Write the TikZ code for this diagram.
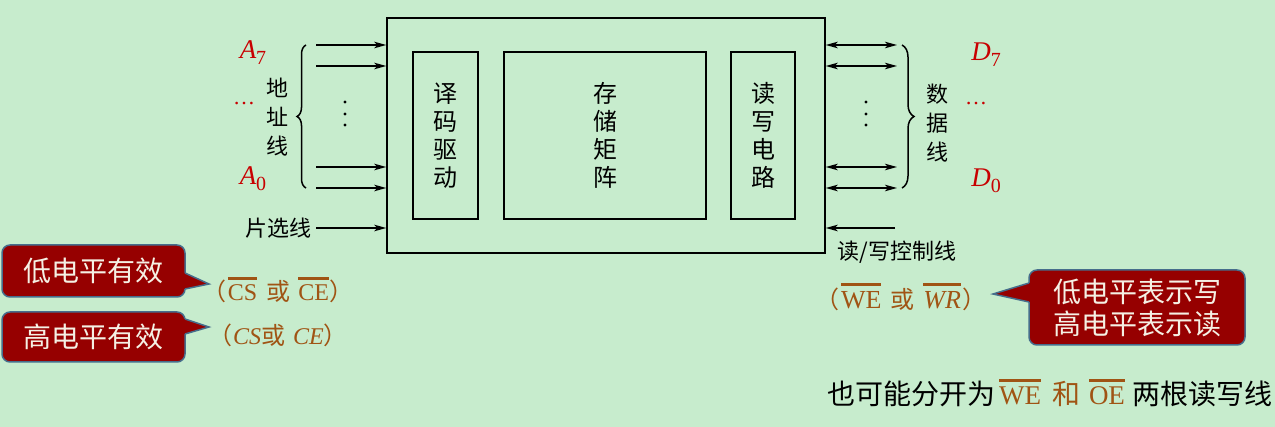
\documentclass[tikz,border=0pt]{standalone}
\usepackage{fontspec}
\setmainfont{Liberation Serif}
\newfontfamily\cjk{Noto Sans CJK SC}
\usetikzlibrary{arrows.meta,decorations.pathreplacing}
\definecolor{bg}{RGB}{199,236,205}
\definecolor{lblred}{RGB}{200,0,0}
\definecolor{sigbrown}{RGB}{160,84,20}
\definecolor{boxred}{RGB}{150,0,0}
\definecolor{boxedge}{RGB}{70,110,140}
\definecolor{bubtext}{RGB}{245,240,228}
\newsavebox\ovlbox
\newcommand{\lat}[1]{{\rmfamily\fontsize{24}{28}\selectfont #1}}
\newcommand{\ovl}[1]{\sbox\ovlbox{\rmfamily #1}\rlap{\rule[\dimexpr\ht\ovlbox+5pt\relax]{\wd\ovlbox}{2.8pt}}\usebox\ovlbox}
\newcommand{\pinname}[2]{{\itshape #1}\raisebox{-6pt}{\fontsize{20}{22}\selectfont\upshape #2}}
\begin{document}
\begin{tikzpicture}[x=1pt,y=-1pt,line width=1.5pt,
	zh/.style={font=\cjk\fontsize{22}{29}\selectfont},
	block/.style={draw, minimum height=167, inner sep=0pt, align=center, font=\cjk\fontsize{24}{28}\selectfont},
	arr/.style={-{Stealth[length=12pt,width=6.5pt,inset=3pt]}},
	dup/.style={{Stealth[length=12pt,width=6.5pt,inset=3pt]}-{Stealth[length=12pt,width=6.5pt,inset=3pt]}},
	pin/.style={text=lblred, inner sep=0pt, font=\rmfamily\fontsize{27}{30}\selectfont},
	sig/.style={text=sigbrown, inner sep=0pt, font=\cjk\fontsize{24}{28}\selectfont},
	bubble/.style={fill=boxred, draw=boxedge, rounded corners=8pt, inner sep=0pt, align=center, text=bubtext, font=\cjk\fontsize{28}{32}\selectfont}]
	% Hintergrund
	\fill[bg] (0,0) rectangle (1275,427);
	\useasboundingbox (0,0) rectangle (1275,427);
	% Speicherchip
	\node[draw, minimum width=438, minimum height=235] (chip) at (606,135.5) {};
	\node[block, minimum width=65] (dec) at (445.5,135.5) {译\\码\\驱\\动};
	\node[block, minimum width=202] (mat) at (605,135.5) {存\\储\\矩\\阵};
	\node[block, minimum width=64] (rw) at (763,135.5) {读\\写\\电\\路};
	% Adressleitungen
	\foreach \y/\n in {45/a7,66/a6,167/a1,188/a0} {
		\coordinate (\n) at (316,\y);
		\draw[arr] (\n) -- (\n -| chip.west);
	}
	\draw[decorate, decoration={brace, amplitude=9pt}] (306,188) -- (306,45);
	\foreach \y in {102,114,125}
		\fill (345,\y) circle (1.6pt);
	\node[zh, align=center] (addr) at (277,117) {地\\址\\线};
	\node[pin] (a7lbl) at (253,52.5) {\pinname{A}{7}};
	\node[pin, anchor=base] (adots) at (244,105) {\fontsize{22}{26}\selectfont\ldots};
	\node[pin] (a0lbl) at (253,179) {\pinname{A}{0}};
	% Chip-Select
	\node[zh, anchor=east] (cslbl) at (316,228) {片选线};
	\draw[arr] (cslbl) -- (cslbl -| chip.west);
	% Datenleitungen
	\foreach \y/\n in {45/d7,66/d6,167/d1,188/d0} {
		\coordinate (\n) at (897,\y);
		\draw[dup] (\n -| chip.east) -- (\n);
	}
	\draw[decorate, decoration={brace, amplitude=12pt}] (902,45) -- (902,188);
	\foreach \y in {102,114,125}
		\fill (866,\y) circle (1.6pt);
	\node[zh, align=center] (data) at (937,123) {数\\据\\线};
	\node[pin] (d7lbl) at (986,55) {\pinname{D}{7}};
	\node[pin, anchor=base] (ddots) at (976,105) {\fontsize{22}{26}\selectfont\ldots};
	\node[pin] (d0lbl) at (986,181) {\pinname{D}{0}};
	% Lesen/Schreiben
	\coordinate (wr) at (895,228);
	\draw[arr] (wr) -- (wr -| chip.east);
	\node[zh] (wrlbl) at (897,252) {读/写控制线};
	% Sprechblasen links
	\node[bubble, minimum width=183, minimum height=52] (low) at (93.5,271) {低电平有效};
	\fill[boxred] (180,273) -- (185,273) -- (209,284) -- (185,289) -- (180,289) -- cycle;
	\draw[boxedge] (185,273) -- (209,284) -- (185,289);
	\node[bubble, minimum width=183, minimum height=50] (high) at (93.5,337) {高电平有效};
	\fill[boxred] (180,319) -- (185,319) -- (209,327) -- (185,334) -- (180,334) -- cycle;
	\draw[boxedge] (185,319) -- (209,327) -- (185,334);
	\node[sig] (cslow) at (278,290) {（\hspace{1pt}\lat{\ovl{CS}}\hspace{9pt}或\hspace{8pt}\lat{\ovl{CE}}）};
	\node[sig] (cshigh) at (278,335) {（\hspace{1pt}\lat{\itshape CS}或\hspace{8pt}\lat{\itshape CE}）};
	% Sprechblase rechts
	\node[bubble, minimum width=216, minimum height=75] (rwnote) at (1137,307.5) {低电平表示写\\高电平表示读};
	\fill[boxred] (1034,283) -- (1029,283) -- (993,294) -- (1029,302) -- (1034,302) -- cycle;
	\draw[boxedge] (1029,283) -- (993,294) -- (1029,302);
	\node[sig] (wesig) at (901,297) {（\hspace{2pt}{\rmfamily\fontsize{26}{28}\selectfont\ovl{WE}}\hspace{9pt}或\hspace{9pt}{\rmfamily\fontsize{26}{28}\selectfont\ovl{\itshape WR}}\hspace{2pt}）};
	% Hinweis unten
	\node[inner sep=0pt, font=\cjk\fontsize{28}{32}\selectfont] (split) at (1050,393) {也可能分开为\hspace{4pt}{\color{sigbrown}{\rmfamily\fontsize{27}{30}\selectfont\ovl{WE}}\hspace{11pt}和\hspace{9pt}{\rmfamily\fontsize{27}{30}\selectfont\ovl{OE}}}\hspace{8pt}两根读写线};
\end{tikzpicture}
\end{document}
